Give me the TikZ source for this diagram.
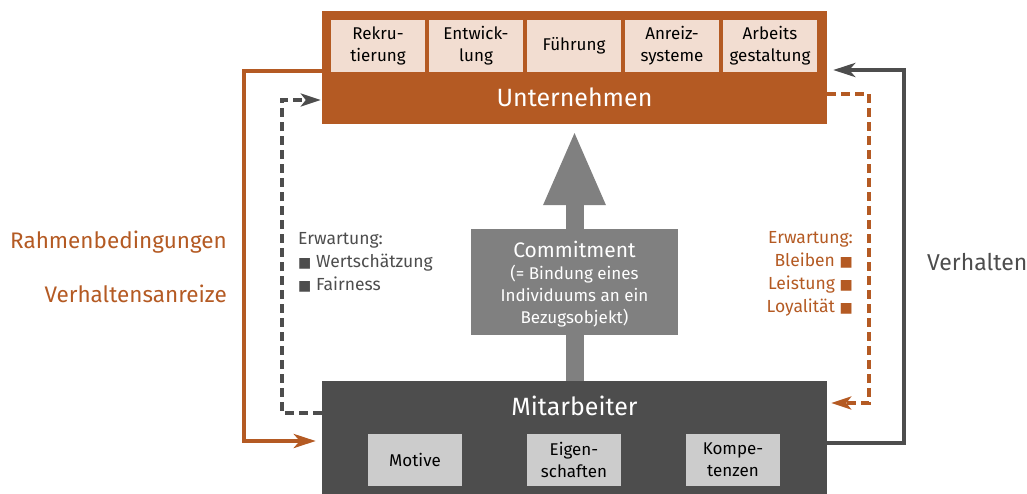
\documentclass[tikz,border=0pt]{standalone}
\usepackage{fontspec}
\setmainfont{Fira Sans}
\newfontfamily\symfont{DejaVu Sans}
\usetikzlibrary{arrows.meta,positioning,calc,backgrounds}
\definecolor{rust}{HTML}{B45A23}
\definecolor{peach}{HTML}{F2DDD1}
\definecolor{darkgrey}{HTML}{4D4D4D}
\definecolor{midgrey}{HTML}{808080}
\definecolor{lightgrey}{HTML}{CCCCCC}
\newcommand{\sq}{{\symfont\fontsize{14}{14}\selectfont ■}}

\begin{document}
\begin{tikzpicture}[x=1pt,y=-1pt,
  block/.style={inner sep=0pt,minimum width=505pt,minimum height=113pt},
  hrbox/.style={fill=peach,inner sep=0pt,minimum width=94pt,minimum height=52pt,align=center,font=\fontsize{17}{22}\selectfont},
  traitbox/.style={hrbox,fill=lightgrey},
  title/.style={font=\fontsize{25}{30}\selectfont,inner sep=0pt},
  side/.style={font=\fontsize{22.5}{26}\selectfont,inner sep=0pt},
  note/.style={font=\fontsize{17.5}{22.8}\selectfont,inner sep=0pt},
  feedback/.style={line width=4.5pt,-{Stealth[length=22pt,width=14pt,inset=6pt]}},
  expect/.style={line width=3.5pt,dash pattern=on 9pt off 5pt,-{Stealth[length=20pt,width=13pt,inset=5pt]}}]
\useasboundingbox (0,0) rectangle (1027,493);

\node[block,fill=rust] (firm) at (574.5,67.5) {};
\node[title,white,anchor=base] (firmname) at (574.5,106) {Unternehmen};
\foreach \t [count=\i] in {{Rekru-\\tierung},{Entwick-\\lung},{Führung},{Anreiz-\\systeme},{Arbeits\\gestaltung}}
  \node[hrbox] (hr\i) at (280+98*\i,46) {\t};

\node[block,fill=darkgrey] (staff) at (574.5,437.5) {};
\node[title,white,anchor=base] (staffname) at (574.5,415) {Mitarbeiter};
\foreach \t/\x [count=\i] in {Motive/415,{Eigen-\\schaften}/574,{Kompe-\\tenzen}/733}
  \node[traitbox] (tr\i) at (\x,460) {\t};

\node[fill=midgrey,inner sep=0pt,minimum width=207pt,minimum height=106pt] (commit) at (574.5,282) {};
\node[white,anchor=base,font=\fontsize{21}{24}\selectfont,inner sep=0pt] (committitle) at (commit.center |- 0,257) {Commitment};
\node[white,anchor=base,align=center,font=\fontsize{17}{22}\selectfont,inner sep=0pt] (commitdef) at (commit.center |- 0,323) {(= Bindung eines\\Individuums an ein\\Bezugsobjekt)};
\begin{scope}[on background layer]
\draw[midgrey,line width=18pt,-{Triangle[length=75pt,width=57pt]},shorten >=6pt] (staff.north) -- (firm.south);
\end{scope}

\draw[feedback,rust,shorten >=6pt] (firm.west |- 0,71) -| (244,441) -- (staff.west |- 0,441);
\draw[feedback,darkgrey,shorten >=6pt] (staff.east |- 0,443) -| (904,70) -- (firm.east |- 0,70);
\draw[expect,darkgrey,shorten >=1pt] (staff.west |- 0,413) -| (282,100) -- (firm.west |- 0,100);
\draw[expect,rust,shorten >=4pt] (firm.east |- 0,94) -| (869,403) -- (staff.east |- 0,403);

\node[side,rust,anchor=base east] (frame) at (227,248) {Rahmenbedingungen};
\node[side,rust,anchor=base east] (incent) at (227,302) {Verhaltensanreize};
\node[darkgrey,anchor=base west,font=\fontsize{23}{27}\selectfont,inner sep=0pt] (conduct) at (927,270) {Verhalten};

\node[note,darkgrey,anchor=base west,align=left] (firmwish) at (298,290) {Erwartung:\\\sq\ Wertschätzung\\\sq\ Fairness};
\node[note,rust,anchor=base east,align=right] (staffwish) at (853,312) {Erwartung:\\Bleiben \sq\\Leistung \sq\\Loyalität \sq};
\end{tikzpicture}
\end{document}
